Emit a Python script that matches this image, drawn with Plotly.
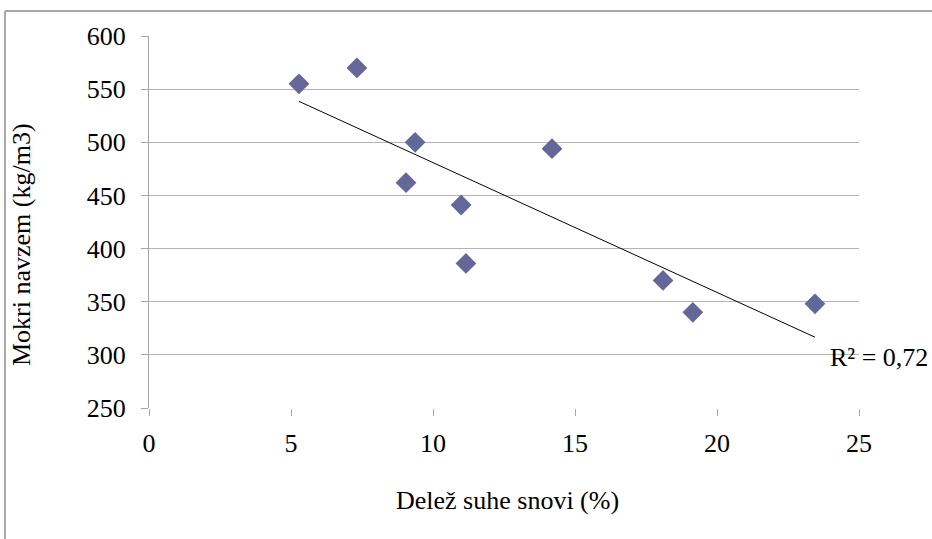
import numpy as np
import plotly.graph_objects as go

dry_share = [5.28, 7.32, 9.37, 9.05, 10.99, 11.16, 14.19, 18.10, 19.15, 23.45]
wet_snow = [555, 570, 500, 462, 441, 386, 494, 370, 340, 348]
x_ticks = [0, 5, 10, 15, 20, 25]
y_ticks = [250, 300, 350, 400, 450, 500, 550, 600]
x_title = "Delež suhe snovi (%)"
y_title = "Mokri navzem (kg/m3)"
r2_label = "R² = 0,72"

FONT = "Liberation Serif, Times New Roman, serif"

slope, intercept = np.polyfit(dry_share, wet_snow, 1)
xl = np.array([min(dry_share), max(dry_share)])
yl = slope * xl + intercept

fig = go.Figure()
fig.add_trace(go.Scatter(
    x=dry_share, y=wet_snow, mode="markers",
    marker=dict(symbol="diamond", size=16, color="#666699", line=dict(width=0)),
    showlegend=False, hoverinfo="x+y"))
fig.add_trace(go.Scatter(
    x=xl, y=yl, mode="lines", line=dict(color="black", width=1),
    showlegend=False, hoverinfo="skip"))

W, H = 932, 539
L, R, T, B = 149, 73, 36, 131
pw, ph = W - L - R, H - T - B

def px2paper(px, py):
    return (px - L) / pw, (H - B - py) / ph

fig.update_layout(
    width=W, height=H,
    margin=dict(l=L, r=R, t=T, b=B, pad=0),
    paper_bgcolor="white", plot_bgcolor="white",
    font=dict(family=FONT, size=26, color="black"),
    xaxis=dict(range=[0, 25], tickvals=x_ticks, showgrid=False, zeroline=False,
               showline=False, ticks="outside", ticklen=7, tickcolor="#a6a6a6",
               tickwidth=1, ticklabelstandoff=5,
               tickfont=dict(family=FONT, size=26, color="black")),
    yaxis=dict(range=[250, 600], tickvals=y_ticks, showgrid=True, gridcolor="#b3b3b3",
               gridwidth=1.3, zeroline=False, showline=True, linecolor="#a6a6a6",
               linewidth=1, ticks="outside", ticklen=7, tickcolor="#a6a6a6",
               ticklabelstandoff=10,
               tickfont=dict(family=FONT, size=26, color="black")),
)

xt, yt = px2paper(507, 500)
xy, yy = px2paper(22, 244)
xr, yr = px2paper(828, 357)
fig.add_annotation(text=x_title, xref="paper", yref="paper", x=xt, y=yt,
                   showarrow=False, xanchor="center", yanchor="middle",
                   font=dict(family=FONT, size=26, color="black"))
fig.add_annotation(text=y_title, xref="paper", yref="paper", x=xy, y=yy,
                   showarrow=False, xanchor="center", yanchor="middle", textangle=-90,
                   font=dict(family=FONT, size=26, color="black"))
fig.add_annotation(text=r2_label, xref="paper", yref="paper", x=xr, y=yr,
                   showarrow=False, xanchor="left", yanchor="middle",
                   font=dict(family=FONT, size=26, color="black"))

# chart frame (top and left edges visible)
fx0, fy0 = px2paper(5, 11)
fx1, fy1 = px2paper(W + 20, H + 20)
fig.add_shape(type="line", xref="paper", yref="paper", x0=fx0, y0=fy0, x1=fx1, y1=fy0,
              line=dict(color="#8c8c8c", width=1.5))
fig.add_shape(type="line", xref="paper", yref="paper", x0=fx0, y0=fy0, x1=fx0, y1=fy1,
              line=dict(color="#8c8c8c", width=1.5))

fig.write_html("out.html", config={"displayModeBar": False},
               post_script="document.body.style.margin='0';document.body.style.overflow='hidden';")
